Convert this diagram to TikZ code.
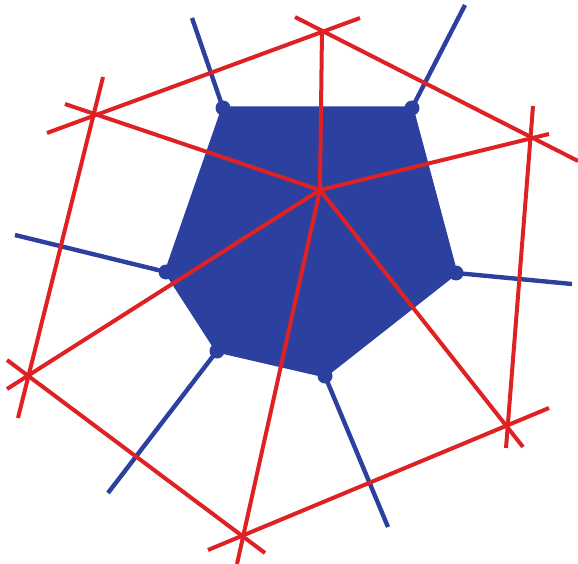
\documentclass[tikz,border=0pt]{standalone}
\begin{document}
\begin{tikzpicture}[x=1pt,y=-1pt,
  redline/.style={draw=vred,line width=4pt},
  blueline/.style={draw=vblue,line width=4.4pt},
  cell/.style={fill=vblue,draw=vblue,line width=3pt,line join=round},
  vdot/.style={circle,fill=vblue,inner sep=0pt,minimum size=15pt}]
\definecolor{vred}{RGB}{222,34,36}
\definecolor{vblue}{RGB}{44,64,160}
\useasboundingbox (0,0) rectangle (578,564);
% Voronoi cell vertices
\coordinate (V1) at (223,108);
\coordinate (V2) at (412,108);
\coordinate (V3) at (456,273);
\coordinate (V4) at (325,376);
\coordinate (V5) at (217,351);
\coordinate (V6) at (166,272);
% blue edge ends
\coordinate (B1) at (192,18);
\coordinate (B2) at (465,5);
\coordinate (B3) at (572,284);
\coordinate (B4) at (388,527);
\coordinate (B5) at (108,493);
\coordinate (B6) at (15,235);
% cell
\path[cell] (V1) -- (V2) -- (V3) -- (V4) -- (V5) -- (V6) -- cycle;
\draw[blueline] (V1) -- (B1);
\draw[blueline] (V2) -- (B2);
\draw[blueline] (V3) -- (B3);
\draw[blueline] (V4) -- (B4);
\draw[blueline] (V5) -- (B5);
\draw[blueline] (V6) -- (B6);
% red sites
\coordinate (C) at (320,190);
\coordinate (P1) at (322,30);
\coordinate (P2) at (96,114);
\coordinate (P3) at (532,137);
\coordinate (P4) at (29,376);
\coordinate (P5) at (242,537);
\coordinate (P6) at (507,426);
% red line ends
\coordinate (E12a) at (47,133);
\coordinate (E12b) at (360,18);
\coordinate (E13a) at (295,17);
\coordinate (E13b) at (578,161);
\coordinate (E2c) at (65,104);
\coordinate (E24a) at (103,77);
\coordinate (E24b) at (18,418);
\coordinate (E3c) at (549,134);
\coordinate (E36a) at (533,106);
\coordinate (E36b) at (506,448);
\coordinate (E4c) at (7,389);
\coordinate (E45a) at (7,360);
\coordinate (E45b) at (265,553);
\coordinate (E5c) at (237,564);
\coordinate (E56a) at (208,550);
\coordinate (E56b) at (549,408);
\coordinate (E6c) at (523,447);
% red edges
\draw[redline] (E12a) -- (E12b);
\draw[redline] (E13a) -- (E13b);
\draw[redline] (E24a) -- (E24b);
\draw[redline] (E36a) -- (E36b);
\draw[redline] (E45a) -- (E45b);
\draw[redline] (E56a) -- (E56b);
\draw[redline] (C) -- (P1);
\draw[redline] (C) -- (E2c);
\draw[redline] (C) -- (E3c);
\draw[redline] (C) -- (E4c);
\draw[redline] (C) -- (E5c);
\draw[redline] (C) -- (E6c);
% vertex dots
\foreach \v in {V1,V2,V3,V4,V5,V6} \node[vdot] (d\v) at (\v) {};
\end{tikzpicture}
\end{document}
